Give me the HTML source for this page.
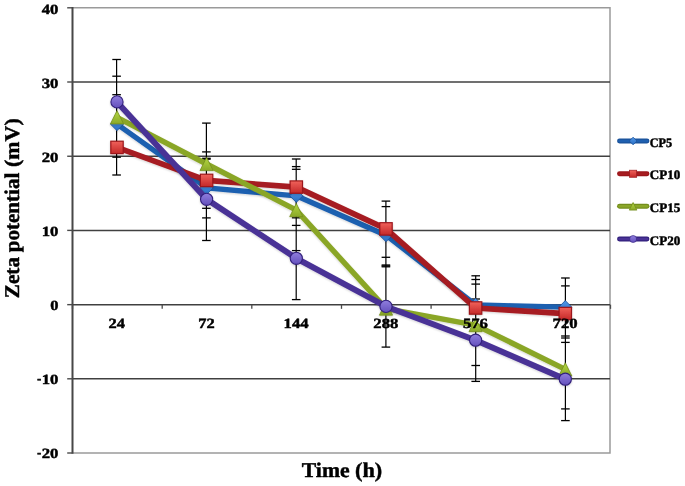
<!DOCTYPE html>
<html lang="en"><head><meta charset="utf-8"><title>Zeta potential vs Time</title>
<style>html,body{margin:0;padding:0;background:#fff}body{width:685px;height:486px;overflow:hidden}svg{display:block}text{font-family:"Liberation Serif","DejaVu Serif",serif;font-weight:bold;fill:#000;stroke:#000;stroke-width:0.45px;stroke-linejoin:round;text-rendering:geometricPrecision}svg{opacity:0.999}</style></head><body>
<svg width="685" height="486" viewBox="0 0 685 486">
<defs>
<linearGradient id="gblue" x1="0" y1="0" x2="0" y2="1"><stop offset="0" stop-color="#5298E8"/><stop offset="1" stop-color="#2A6EC2"/></linearGradient>
<linearGradient id="gred" x1="0" y1="0" x2="0" y2="1"><stop offset="0" stop-color="#F0625B"/><stop offset="1" stop-color="#C42828"/></linearGradient>
<linearGradient id="ggreen" x1="0" y1="0" x2="0" y2="1"><stop offset="0" stop-color="#B4D842"/><stop offset="1" stop-color="#8AA828"/></linearGradient>
<linearGradient id="gpurple" x1="0" y1="0" x2="0" y2="1"><stop offset="0" stop-color="#907EDE"/><stop offset="1" stop-color="#6450BC"/></linearGradient>
<filter id="sh" x="-5%" y="-5%" width="110%" height="115%"><feGaussianBlur in="SourceAlpha" stdDeviation="0.8"/><feOffset dx="0" dy="0.6"/><feComponentTransfer><feFuncA type="linear" slope="0.18"/></feComponentTransfer><feMerge><feMergeNode/><feMergeNode in="SourceGraphic"/></feMerge></filter>
</defs>
<rect width="685" height="486" fill="#fff"/>
<path d="M72.5 7.8 H610.0 V453.0 H72.5" fill="none" stroke="#9a9a9a" stroke-width="1.5"/>
<line x1="72.5" x2="610.0" y1="82.0" y2="82.0" stroke="#404040" stroke-width="1.5"/>
<line x1="72.5" x2="610.0" y1="156.25" y2="156.25" stroke="#404040" stroke-width="1.5"/>
<line x1="72.5" x2="610.0" y1="230.4" y2="230.4" stroke="#404040" stroke-width="1.5"/>
<line x1="72.5" x2="610.0" y1="378.8" y2="378.8" stroke="#404040" stroke-width="1.5"/>
<line x1="72.5" x2="72.5" y1="7.1" y2="453.7" stroke="#474747" stroke-width="2"/>
<line x1="72.5" x2="610.0" y1="304.65" y2="304.65" stroke="#404040" stroke-width="1.5"/>
<line x1="67.2" x2="72.5" y1="7.8" y2="7.8" stroke="#4a4a4a" stroke-width="1.4"/>
<line x1="67.2" x2="72.5" y1="82.0" y2="82.0" stroke="#4a4a4a" stroke-width="1.4"/>
<line x1="67.2" x2="72.5" y1="156.25" y2="156.25" stroke="#4a4a4a" stroke-width="1.4"/>
<line x1="67.2" x2="72.5" y1="230.4" y2="230.4" stroke="#4a4a4a" stroke-width="1.4"/>
<line x1="67.2" x2="72.5" y1="304.65" y2="304.65" stroke="#4a4a4a" stroke-width="1.4"/>
<line x1="67.2" x2="72.5" y1="378.8" y2="378.8" stroke="#4a4a4a" stroke-width="1.4"/>
<line x1="67.2" x2="72.5" y1="453.0" y2="453.0" stroke="#4a4a4a" stroke-width="1.4"/>
<line x1="72.5" x2="72.5" y1="304.65" y2="308.84999999999997" stroke="#4a4a4a" stroke-width="1.3"/>
<line x1="162.2" x2="162.2" y1="304.65" y2="308.84999999999997" stroke="#4a4a4a" stroke-width="1.3"/>
<line x1="251.8" x2="251.8" y1="304.65" y2="308.84999999999997" stroke="#4a4a4a" stroke-width="1.3"/>
<line x1="341.5" x2="341.5" y1="304.65" y2="308.84999999999997" stroke="#4a4a4a" stroke-width="1.3"/>
<line x1="431.1" x2="431.1" y1="304.65" y2="308.84999999999997" stroke="#4a4a4a" stroke-width="1.3"/>
<line x1="520.8" x2="520.8" y1="304.65" y2="308.84999999999997" stroke="#4a4a4a" stroke-width="1.3"/>
<line x1="610.5" x2="610.5" y1="304.65" y2="308.84999999999997" stroke="#4a4a4a" stroke-width="1.3"/>
<text x="41.7" y="13.6" font-size="14.1" textLength="16.7" lengthAdjust="spacingAndGlyphs">40</text>
<text x="41.7" y="87.8" font-size="14.1" textLength="16.7" lengthAdjust="spacingAndGlyphs">30</text>
<text x="41.7" y="161.6" font-size="14.1" textLength="16.7" lengthAdjust="spacingAndGlyphs">20</text>
<text x="41.7" y="235.7" font-size="14.1" textLength="16.7" lengthAdjust="spacingAndGlyphs">10</text>
<text x="50.2" y="310.0" font-size="14.1" textLength="8.2" lengthAdjust="spacingAndGlyphs">0</text>
<text y="384.1" font-size="14.1"><tspan x="36.9" dy="-0.9" textLength="4.3" lengthAdjust="spacingAndGlyphs">-</tspan><tspan x="41.7" dy="0.9" textLength="16.7" lengthAdjust="spacingAndGlyphs">10</tspan></text>
<text y="458.2" font-size="14.1"><tspan x="36.9" dy="-0.9" textLength="4.3" lengthAdjust="spacingAndGlyphs">-</tspan><tspan x="41.7" dy="0.9" textLength="16.7" lengthAdjust="spacingAndGlyphs">20</tspan></text>
<g stroke="#000" stroke-width="1.3" fill="none">
<line x1="116.6" x2="116.6" y1="59.5" y2="175.0" stroke-width="1.2"/>
<line x1="112.3" x2="120.9" y1="59.5" y2="59.5"/>
<line x1="112.3" x2="120.9" y1="76.2" y2="76.2"/>
<line x1="112.3" x2="120.9" y1="94.7" y2="94.7"/>
<line x1="112.3" x2="120.9" y1="157.2" y2="157.2"/>
<line x1="112.3" x2="120.9" y1="175.0" y2="175.0"/>
<line x1="206.4" x2="206.4" y1="123.1" y2="240.5" stroke-width="1.2"/>
<line x1="202.1" x2="210.7" y1="123.1" y2="123.1"/>
<line x1="202.1" x2="210.7" y1="151.9" y2="151.9"/>
<line x1="202.1" x2="210.7" y1="158.3" y2="158.3"/>
<line x1="202.1" x2="210.7" y1="159.2" y2="159.2"/>
<line x1="202.1" x2="210.7" y1="208.3" y2="208.3"/>
<line x1="202.1" x2="210.7" y1="217.9" y2="217.9"/>
<line x1="202.1" x2="210.7" y1="240.5" y2="240.5"/>
<line x1="296.2" x2="296.2" y1="159.0" y2="299.6" stroke-width="1.2"/>
<line x1="291.9" x2="300.5" y1="159.0" y2="159.0"/>
<line x1="291.9" x2="300.5" y1="166.6" y2="166.6"/>
<line x1="291.9" x2="300.5" y1="169.3" y2="169.3"/>
<line x1="291.9" x2="300.5" y1="217.8" y2="217.8"/>
<line x1="291.9" x2="300.5" y1="225.4" y2="225.4"/>
<line x1="291.9" x2="300.5" y1="250.6" y2="250.6"/>
<line x1="291.9" x2="300.5" y1="299.6" y2="299.6"/>
<line x1="385.9" x2="385.9" y1="201.1" y2="347.1" stroke-width="1.2"/>
<line x1="381.6" x2="390.2" y1="201.1" y2="201.1"/>
<line x1="381.6" x2="390.2" y1="206.6" y2="206.6"/>
<line x1="381.6" x2="390.2" y1="257.3" y2="257.3"/>
<line x1="381.6" x2="390.2" y1="265.0" y2="265.0"/>
<line x1="381.6" x2="390.2" y1="265.9" y2="265.9"/>
<line x1="381.6" x2="390.2" y1="266.8" y2="266.8"/>
<line x1="381.6" x2="390.2" y1="347.1" y2="347.1"/>
<line x1="475.7" x2="475.7" y1="275.8" y2="381.4" stroke-width="1.2"/>
<line x1="471.4" x2="480.0" y1="275.8" y2="275.8"/>
<line x1="471.4" x2="480.0" y1="279.5" y2="279.5"/>
<line x1="471.4" x2="480.0" y1="284.1" y2="284.1"/>
<line x1="471.4" x2="480.0" y1="299.0" y2="299.0"/>
<line x1="471.4" x2="480.0" y1="365.5" y2="365.5"/>
<line x1="471.4" x2="480.0" y1="381.4" y2="381.4"/>
<line x1="565.4" x2="565.4" y1="278.0" y2="420.6" stroke-width="1.2"/>
<line x1="561.1" x2="569.7" y1="278.0" y2="278.0"/>
<line x1="561.1" x2="569.7" y1="285.9" y2="285.9"/>
<line x1="561.1" x2="569.7" y1="336.0" y2="336.0"/>
<line x1="561.1" x2="569.7" y1="338.0" y2="338.0"/>
<line x1="561.1" x2="569.7" y1="342.4" y2="342.4"/>
<line x1="561.1" x2="569.7" y1="408.9" y2="408.9"/>
<line x1="561.1" x2="569.7" y1="420.6" y2="420.6"/>
</g>
<g filter="url(#sh)"><polyline points="117.0,124.1 206.6,187.9 296.3,195.8 386.0,235.2 475.6,304.9 565.3,307.2" fill="none" stroke="#1F60B0" stroke-width="5.3" stroke-linejoin="round" stroke-linecap="round"/>
<path d="M117.0 117.5 L123.6 124.1 L117.0 130.7 L110.4 124.1 Z" fill="url(#gblue)" stroke="#1B529A" stroke-width="0.8"/>
<path d="M206.6 181.3 L213.2 187.9 L206.6 194.5 L200.0 187.9 Z" fill="url(#gblue)" stroke="#1B529A" stroke-width="0.8"/>
<path d="M296.3 189.2 L302.9 195.8 L296.3 202.4 L289.7 195.8 Z" fill="url(#gblue)" stroke="#1B529A" stroke-width="0.8"/>
<path d="M386.0 228.6 L392.6 235.2 L386.0 241.8 L379.4 235.2 Z" fill="url(#gblue)" stroke="#1B529A" stroke-width="0.8"/>
<path d="M475.6 298.3 L482.2 304.9 L475.6 311.5 L469.0 304.9 Z" fill="url(#gblue)" stroke="#1B529A" stroke-width="0.8"/>
<path d="M565.3 300.6 L571.9 307.2 L565.3 313.8 L558.7 307.2 Z" fill="url(#gblue)" stroke="#1B529A" stroke-width="0.8"/>
</g>
<g filter="url(#sh)"><polyline points="117.0,147.4 206.6,180.4 296.3,187.1 386.0,228.9 475.6,308.0 565.3,313.6" fill="none" stroke="#A61C20" stroke-width="5.6" stroke-linejoin="round" stroke-linecap="round"/>
<rect x="110.8" y="141.2" width="12.4" height="12.4" fill="url(#gred)" stroke="#9C161B" stroke-width="1.20"/>
<rect x="200.4" y="174.2" width="12.4" height="12.4" fill="url(#gred)" stroke="#9C161B" stroke-width="1.20"/>
<rect x="290.1" y="180.9" width="12.4" height="12.4" fill="url(#gred)" stroke="#9C161B" stroke-width="1.20"/>
<rect x="379.8" y="222.7" width="12.4" height="12.4" fill="url(#gred)" stroke="#9C161B" stroke-width="1.20"/>
<rect x="469.4" y="301.8" width="12.4" height="12.4" fill="url(#gred)" stroke="#9C161B" stroke-width="1.20"/>
<rect x="559.1" y="307.4" width="12.4" height="12.4" fill="url(#gred)" stroke="#9C161B" stroke-width="1.20"/>
</g>
<g filter="url(#sh)"><polyline points="117.0,117.3 206.6,164.0 296.3,210.1 386.0,308.6 475.6,325.1 565.3,369.4" fill="none" stroke="#8AA628" stroke-width="5.4" stroke-linejoin="round" stroke-linecap="round"/>
<path d="M117.0 110.7 L123.6 123.9 L110.4 123.9 Z" fill="url(#ggreen)" stroke="#748E1C" stroke-width="0.8"/>
<path d="M206.6 157.4 L213.2 170.6 L200.0 170.6 Z" fill="url(#ggreen)" stroke="#748E1C" stroke-width="0.8"/>
<path d="M296.3 203.5 L302.9 216.7 L289.7 216.7 Z" fill="url(#ggreen)" stroke="#748E1C" stroke-width="0.8"/>
<path d="M386.0 302.0 L392.6 315.2 L379.4 315.2 Z" fill="url(#ggreen)" stroke="#748E1C" stroke-width="0.8"/>
<path d="M475.6 318.5 L482.2 331.7 L469.0 331.7 Z" fill="url(#ggreen)" stroke="#748E1C" stroke-width="0.8"/>
<path d="M565.3 362.8 L571.9 376.0 L558.7 376.0 Z" fill="url(#ggreen)" stroke="#748E1C" stroke-width="0.8"/>
</g>
<g filter="url(#sh)"><polyline points="117.0,101.9 206.6,199.3 296.3,258.3 386.0,306.4 475.6,340.2 565.3,379.2" fill="none" stroke="#4A3296" stroke-width="5.9" stroke-linejoin="round" stroke-linecap="round"/>
<circle cx="117.0" cy="101.9" r="6.1" fill="url(#gpurple)" stroke="#32207C" stroke-width="1.10"/>
<circle cx="206.6" cy="199.3" r="6.1" fill="url(#gpurple)" stroke="#32207C" stroke-width="1.10"/>
<circle cx="296.3" cy="258.3" r="6.1" fill="url(#gpurple)" stroke="#32207C" stroke-width="1.10"/>
<circle cx="386.0" cy="306.4" r="6.1" fill="url(#gpurple)" stroke="#32207C" stroke-width="1.10"/>
<circle cx="475.6" cy="340.2" r="6.1" fill="url(#gpurple)" stroke="#32207C" stroke-width="1.10"/>
<circle cx="565.3" cy="379.2" r="6.1" fill="url(#gpurple)" stroke="#32207C" stroke-width="1.10"/>
</g>
<text x="108.6" y="328.4" font-size="14.1" textLength="16.4" lengthAdjust="spacingAndGlyphs">24</text>
<text x="198.2" y="328.4" font-size="14.1" textLength="16.4" lengthAdjust="spacingAndGlyphs">72</text>
<text x="283.6" y="328.4" font-size="14.1" textLength="25.0" lengthAdjust="spacingAndGlyphs">144</text>
<text x="373.3" y="328.4" font-size="14.1" textLength="25.0" lengthAdjust="spacingAndGlyphs">288</text>
<text x="462.9" y="328.4" font-size="14.1" textLength="25.0" lengthAdjust="spacingAndGlyphs">576</text>
<text x="552.6" y="328.4" font-size="14.1" textLength="25.0" lengthAdjust="spacingAndGlyphs">720</text>
<line x1="619.5" x2="647" y1="141.0" y2="141.0" stroke="#1B529A" stroke-width="4.9" stroke-linecap="round"/>
<line x1="619.5" x2="647" y1="141.0" y2="141.0" stroke="#1F60B0" stroke-width="2.6" stroke-linecap="round"/>
<path d="M633.1 137.2 L636.9 141.0 L633.1 144.8 L629.3 141.0 Z" fill="url(#gblue)" stroke="#1B529A" stroke-width="0.8"/>
<text x="649.8" y="146.5" font-size="13" textLength="22.4" lengthAdjust="spacingAndGlyphs">CP5</text>
<line x1="619.5" x2="647" y1="173.7" y2="173.7" stroke="#9C161B" stroke-width="4.9" stroke-linecap="round"/>
<line x1="619.5" x2="647" y1="173.7" y2="173.7" stroke="#A61C20" stroke-width="2.6" stroke-linecap="round"/>
<rect x="629.6" y="170.2" width="7.1" height="7.1" fill="url(#gred)" stroke="#9C161B" stroke-width="0.68"/>
<text x="649.8" y="179.2" font-size="13" textLength="30.5" lengthAdjust="spacingAndGlyphs">CP10</text>
<line x1="619.5" x2="647" y1="206.3" y2="206.3" stroke="#748E1C" stroke-width="4.9" stroke-linecap="round"/>
<line x1="619.5" x2="647" y1="206.3" y2="206.3" stroke="#8AA628" stroke-width="2.6" stroke-linecap="round"/>
<path d="M633.1 202.5 L636.9 210.1 L629.3 210.1 Z" fill="url(#ggreen)" stroke="#748E1C" stroke-width="0.8"/>
<text x="649.8" y="211.8" font-size="13" textLength="30.5" lengthAdjust="spacingAndGlyphs">CP15</text>
<line x1="619.5" x2="647" y1="239.0" y2="239.0" stroke="#32207C" stroke-width="4.9" stroke-linecap="round"/>
<line x1="619.5" x2="647" y1="239.0" y2="239.0" stroke="#4A3296" stroke-width="2.6" stroke-linecap="round"/>
<circle cx="633.1" cy="239.0" r="3.5" fill="url(#gpurple)" stroke="#32207C" stroke-width="0.63"/>
<text x="649.8" y="244.5" font-size="13" textLength="30.5" lengthAdjust="spacingAndGlyphs">CP20</text>
<text y="476.8" font-size="21"><tspan x="301.8" textLength="47.8" lengthAdjust="spacingAndGlyphs">Time</tspan> <tspan x="355.0" textLength="27.2" lengthAdjust="spacingAndGlyphs">(h)</tspan></text>
<text transform="translate(19.2 298.3) rotate(-90)" font-size="21"><tspan x="0" textLength="41.4" lengthAdjust="spacingAndGlyphs">Zeta</tspan> <tspan x="46.0" textLength="79.6" lengthAdjust="spacingAndGlyphs">potential</tspan> <tspan x="131.4" textLength="48.6" lengthAdjust="spacingAndGlyphs">(mV)</tspan></text>
</svg></body></html>
